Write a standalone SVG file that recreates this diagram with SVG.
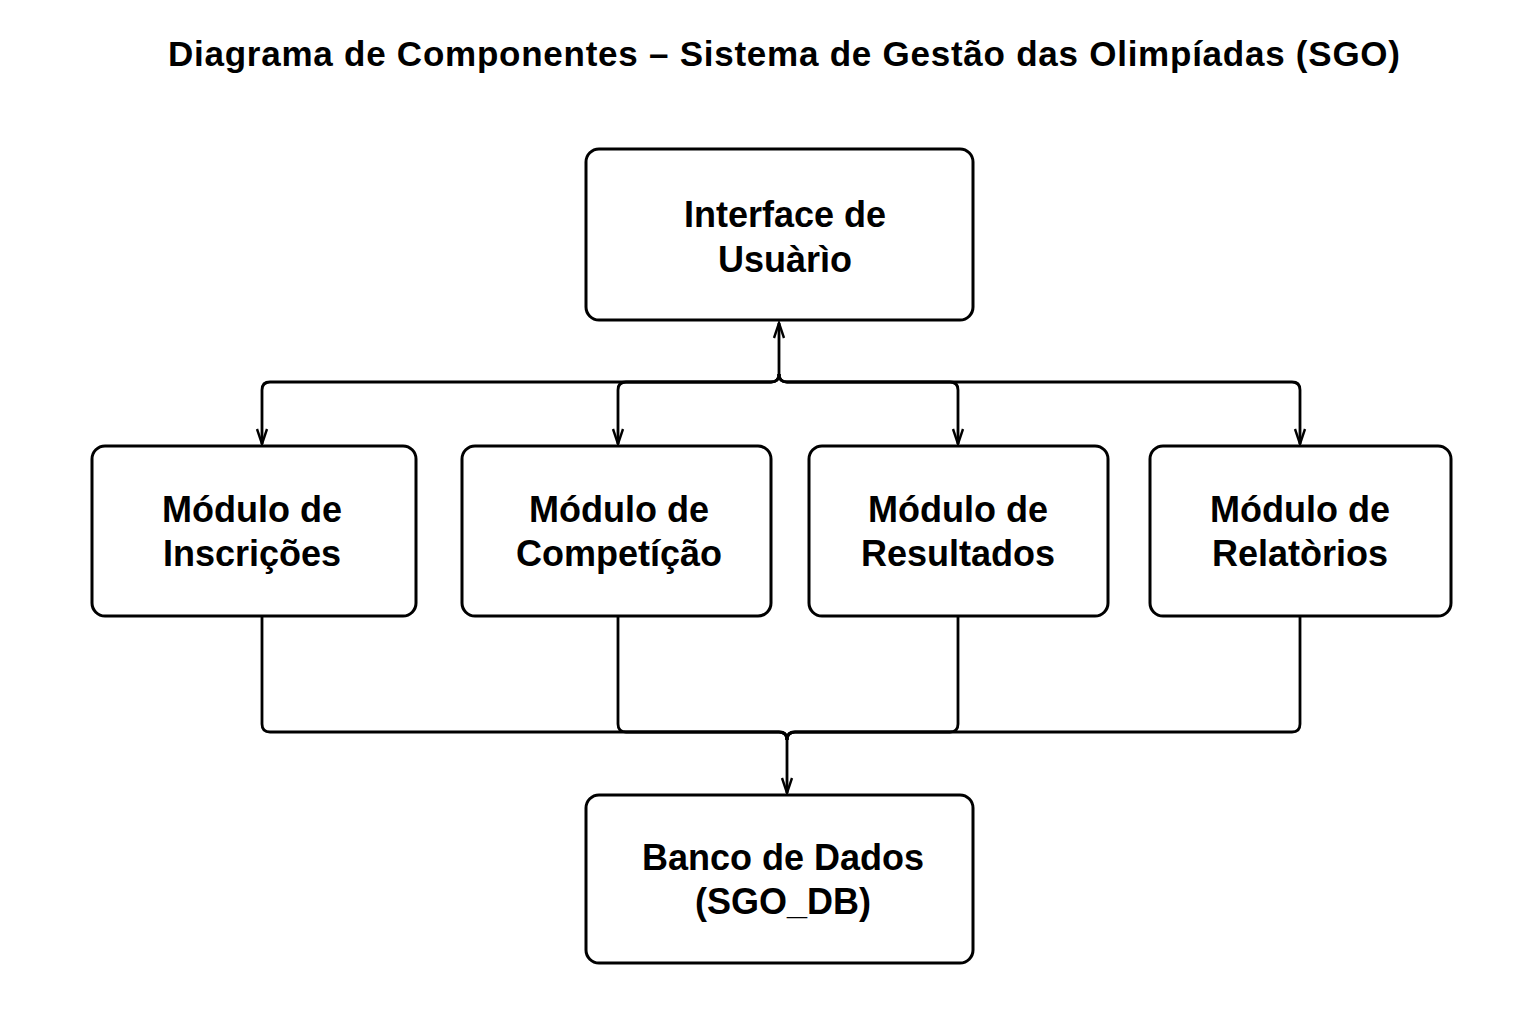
<svg xmlns="http://www.w3.org/2000/svg" width="1536" height="1024" viewBox="0 0 1536 1024">
<style>
.box{fill:#fff;stroke:#000;stroke-width:3}
.t{font-family:"Liberation Sans",Arial,sans-serif;font-weight:bold;font-size:36px;text-anchor:middle;fill:#000}
.title{font-family:"Liberation Sans",Arial,sans-serif;font-weight:bold;font-size:35px;text-anchor:middle;fill:#000}
.c{fill:none;stroke:#000;stroke-width:2.8;stroke-linejoin:round}
</style>
<defs>
<marker id="arr" markerUnits="userSpaceOnUse" markerWidth="20" markerHeight="14" viewBox="-16 -7 18 14" refX="0" refY="0" orient="auto">
<path d="M-15,-5 L0,0 L-15,5" fill="none" stroke="#000" stroke-width="2.4"/>
</marker>
</defs>
<rect width="1536" height="1024" fill="#fff"/>
<text class="title" x="784" y="66" textLength="1232" lengthAdjust="spacing">Diagrama de Componentes – Sistema de Gestão das Olimpíadas (SGO)</text>
<g id="connectors">
<path class="c" d="M779,376 L779,323" marker-end="url(#arr)"/>
<path class="c" d="M779,374 Q779,382 771,382 L270,382 Q262,382 262,390 L262,444" marker-end="url(#arr)"/>
<path class="c" d="M779,374 Q779,382 771,382 L626,382 Q618,382 618,390 L618,444" marker-end="url(#arr)"/>
<path class="c" d="M779,374 Q779,382 787,382 L950,382 Q958,382 958,390 L958,444" marker-end="url(#arr)"/>
<path class="c" d="M779,374 Q779,382 787,382 L1292,382 Q1300,382 1300,390 L1300,444" marker-end="url(#arr)"/>
<path class="c" d="M262,617 L262,724 Q262,732 270,732 L779,732 Q787,732 787,740"/>
<path class="c" d="M618,617 L618,724 Q618,732 626,732 L779,732 Q787,732 787,740"/>
<path class="c" d="M958,617 L958,724 Q958,732 950,732 L795,732 Q787,732 787,740"/>
<path class="c" d="M1300,617 L1300,724 Q1300,732 1292,732 L795,732 Q787,732 787,740"/>
<path class="c" d="M787,738 L787,793" marker-end="url(#arr)"/>
</g>
<g id="interface">
<rect class="box" x="586" y="149" width="387" height="171" rx="13"/>
<text class="t" x="785" y="227">Interface de</text>
<text class="t" x="785" y="272">Usuàrìo</text>
</g>
<g id="inscricoes">
<rect class="box" x="92" y="446" width="324" height="170" rx="13"/>
<text class="t" x="252" y="522">Módulo de</text>
<text class="t" x="252" y="566">Inscrições</text>
</g>
<g id="competicao">
<rect class="box" x="462" y="446" width="309" height="170" rx="13"/>
<text class="t" x="619" y="522">Módulo de</text>
<text class="t" x="619" y="566">Competíção</text>
</g>
<g id="resultados">
<rect class="box" x="809" y="446" width="299" height="170" rx="13"/>
<text class="t" x="958" y="522">Módulo de</text>
<text class="t" x="958" y="566">Resultados</text>
</g>
<g id="relatorios">
<rect class="box" x="1150" y="446" width="301" height="170" rx="13"/>
<text class="t" x="1300" y="522">Módulo de</text>
<text class="t" x="1300" y="566">Relatòrios</text>
</g>
<g id="banco">
<rect class="box" x="586" y="795" width="387" height="168" rx="13"/>
<text class="t" x="783" y="870">Banco de Dados</text>
<text class="t" x="783" y="914">(SGO_DB)</text>
</g>
</svg>
